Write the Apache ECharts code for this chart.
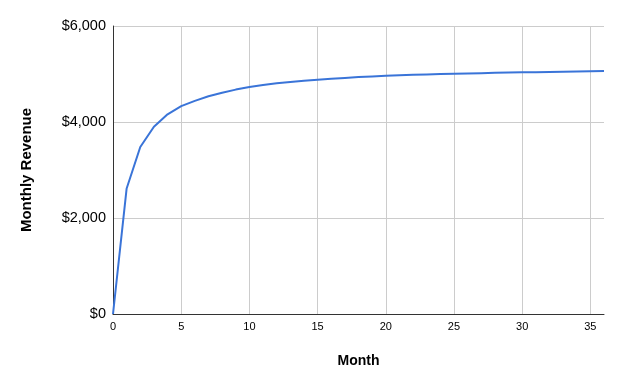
<!DOCTYPE html>
<html>
<head>
<meta charset="utf-8">
<script src="https://cdn.jsdelivr.net/npm/echarts@6/dist/echarts.min.js"></script>
<style>
html,body{margin:0;padding:0;background:#fff;}
#chart{width:624px;height:387px;}
</style>
</head>
<body>
<div id="chart"></div>
<script>
const months = [0,1,2,3,4,5,6,7,8,9,10,11,12,13,14,15,16,17,18,19,20,21,22,23,24,25,26,27,28,29,30,31,32,33,34,35,36];
const revenue = [0,2615,3480,3900,4160,4330,4440,4535,4610,4675,4730,4770,4805,4835,4860,4880,4900,4918,4935,4950,4962,4972,4982,4990,4998,5005,5012,5018,5024,5029,5034,5039,5044,5048,5052,5056,5060];
const xTitle = 'Month';
const yTitle = 'Monthly Revenue';

const chart = echarts.init(document.getElementById('chart'), null, {renderer:'canvas'});
const font = '"Liberation Sans", Arial, sans-serif';
chart.setOption({
  animation: false,
  backgroundColor: '#fff',
  grid: {left: 113, right: 20, top: 26, bottom: 73, containLabel: false},
  xAxis: {
    type: 'value', min: 0, max: 36, interval: 5,
    name: xTitle, nameLocation: 'middle', nameGap: 40,
    nameTextStyle: {fontFamily: font, fontSize: 14, fontWeight: 'bold', color: '#000'},
    axisLine: {show: true, lineStyle: {color: '#333', width: 1}},
    axisTick: {show: false},
    axisLabel: {fontFamily: font, fontSize: 11, color: '#000', margin: 7, showMaxLabel: false},
    splitLine: {show: true, showMinLine: false, showMaxLine: false, lineStyle: {color: '#ccc', width: 1}}
  },
  yAxis: {
    type: 'value', min: 0, max: 6000, interval: 2000,
    name: yTitle, nameLocation: 'middle', nameGap: 79, nameRotate: 90,
    nameTextStyle: {fontFamily: font, fontSize: 15, fontWeight: 'bold', color: '#000'},
    axisLine: {show: true, lineStyle: {color: '#333', width: 1}},
    axisTick: {show: false},
    axisLabel: {fontFamily: font, fontSize: 14.5, color: '#000', margin: 7,
      formatter: v => '$' + v.toLocaleString('en-US')},
    splitLine: {show: true, showMinLine: false, lineStyle: {color: '#ccc', width: 1}}
  },
  series: [{
    type: 'line',
    data: months.map((m, i) => [m, revenue[i]]),
    showSymbol: false,
    smooth: false,
    lineStyle: {color: '#3a74d8', width: 2},
    itemStyle: {color: '#3a74d8'}
  }]
});
</script>
</body>
</html>
